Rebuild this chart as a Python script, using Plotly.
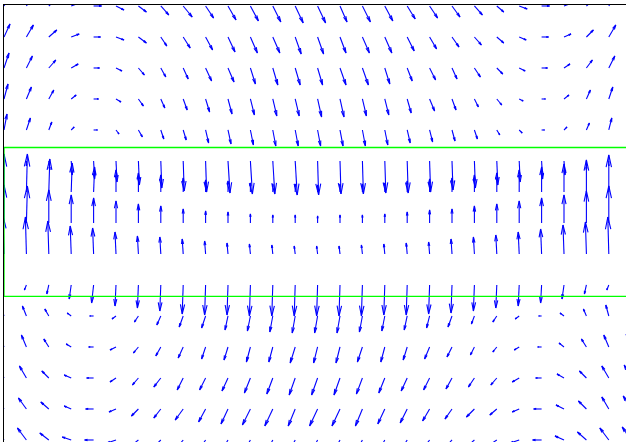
import math
import plotly.graph_objects as go

# ---------------- data ----------------
# grid coordinates (column index along x, row index downward along depth)
x_cols = list(range(29))
y_rows = list(range(15))

# band (green box) limits in row units
band_top = 4.565
band_bottom = 9.365
band_left = 0

# vector components per row (u: rightward, v: upward), arbitrary units
u0 = [7, 8, 8, 8, 8, 8, 8, 8, 9, 8, 8, 8, 8, 8, 8, 7, 8, 8, 8, 8, 8, 8, 7, 8, 8, 8, 8, 8, 7]
v0 = [13, 12, 7, 3, 0, -4, -6, -9, -11, -12, -14, -15, -16, -17, -17, -16, -16, -15, -13, -12, -11, -9, -6, -3, 0, 3, 7, 12, 13]
u1 = [6, 7, 8, 8, 7, 8, 8, 6, 7, 7, 7, 7, 7, 6, 6, 6, 7, 7, 7, 7, 7, 7, 7, 7, 7, 7, 7, 7, 6]
v1 = [13, 12, 7, 3, 0, -3, -6, -9, -11, -13, -15, -16, -16, -17, -17, -16, -16, -16, -14, -12, -10, -8, -6, -3, 0, 3, 7, 12, 13]
u2 = [5, 6, 7, 7, 6, 6, 6, 5, 5, 6, 6, 5, 5, 5, 5, 6, 6, 5, 5, 6, 5, 6, 6, 6, 6, 6, 6, 6, 5]
v2 = [15, 12, 8, 4, 0, -3, -7, -9, -11, -13, -14, -16, -17, -17, -17, -17, -17, -16, -13, -12, -11, -9, -6, -3, 0, 4, 8, 12, 14]
u3 = [4, 5, 5, 5, 5, 5, 5, 4, 4, 4, 4, 4, 4, 4, 4, 4, 4, 4, 4, 5, 4, 4, 5, 4, 4, 5, 4, 4, 4]
v3 = [15, 12, 9, 4, 0, -3, -7, -9, -11, -13, -15, -16, -17, -17, -18, -18, -17, -16, -14, -12, -11, -8, -6, -2, 0, 4, 9, 12, 14]
u4 = [3, 4, 3, 3, 4, 3, 4, 3, 3, 3, 3, 3, 3, 3, 3, 3, 3, 3, 3, 3, 3, 3, 3, 3, 3, 3, 3, 3, 3]
v4 = [16, 12, 8, 3, 0, -4, -7, -9, -10, -13, -14, -15, -16, -16, -16, -16, -16, -15, -13, -12, -11, -9, -5, -3, 0, 3, 7, 12, 14]
u5 = [0, 0, 1, 1, 1, 1, 1, 1, 1, 1, 2, 2, 2, 2, 1, 1, 1, 1, 1, 1, 1, 1, 1, 1, 1, 1, 0, 0, 0]
v5 = [0, -5, -9, -14, -18, -21, -24, -27, -30, -31, -32, -33, -33, -34, -34, -33, -33, -32, -32, -31, -29, -27, -24, -21, -18, -14, -9, -5, 0]
u6 = [0, 1, 1, 1, 1, 0, 0, 0, 0, 0, 0, 0, 0, 0, 0, 0, 0, 0, 0, 0, 0, 0, 0, 0, 0, 0, 0, 0, 0]
v6 = [38, 38, 33, 29, 25, 22, 19, 17, 14, 12, 11, 9, 8, 8, 7, 8, 8, 9, 11, 13, 14, 17, 19, 22, 25, 28, 32, 37, 38]
u7 = [0, 1, 0, 0, 0, 0, 0, 0, 0, 0, 0, 0, 0, 0, 0, 0, 0, 0, 0, 0, 0, 0, 0, 0, 0, 0, 0, 0, 0]
v7 = [38, 37, 33, 28, 25, 22, 19, 17, 14, 12, 11, 9, 8, 8, 7, 8, 8, 9, 11, 13, 14, 17, 19, 22, 25, 28, 32, 37, 38]
u8 = [-1, -1, -1, -1, -1, -1, -1, -1, -1, -1, -1, -1, -1, -1, -1, -1, -1, -1, -1, -1, -1, -1, -1, -1, -1, -1, -1, -1, -1]
v8 = [38, 37, 33, 28, 26, 22, 18, 17, 15, 13, 11, 10, 9, 8, 8, 8, 9, 10, 11, 12, 15, 17, 19, 22, 25, 29, 32, 37, 38]
u9 = [0, -2, -2, -2, -2, -1, -1, -1, -1, -1, -1, -1, -1, -1, -1, -1, -1, -1, -1, -1, -1, -1, -1, -1, -1, -2, -2, -2, 0]
v9 = [0, -5, -9, -14, -18, -21, -23, -26, -29, -30, -30, -31, -31, -31, -31, -31, -31, -30, -30, -29, -28, -26, -23, -21, -18, -14, -9, -5, 0]
u10 = [-4, -4, -4, -4, -4, -4, -4, -4, -4, -4, -3, -3, -3, -3, -3, -3, -3, -3, -3, -3, -4, -3, -4, -4, -3, -4, -3, -3, -4]
v10 = [12, 10, 7, 3, 0, -3, -6, -9, -11, -12, -14, -15, -16, -17, -17, -17, -16, -15, -14, -12, -11, -8, -6, -3, 0, 3, 7, 11, 12]
u11 = [-5, -5, -5, -5, -5, -6, -5, -5, -5, -4, -4, -4, -4, -5, -4, -4, -5, -4, -4, -5, -5, -4, -4, -5, -4, -5, -5, -5, -5]
v11 = [13, 12, 8, 3, 0, -3, -6, -9, -11, -12, -13, -15, -15, -16, -16, -16, -15, -15, -13, -12, -10, -8, -5, -3, 0, 4, 8, 12, 13]
u12 = [-7, -7, -7, -7, -7, -6, -6, -7, -6, -6, -6, -6, -6, -6, -6, -6, -6, -6, -6, -6, -6, -6, -6, -7, -6, -7, -7, -7, -7]
v12 = [13, 12, 7, 3, 0, -4, -7, -9, -12, -12, -13, -15, -16, -17, -17, -17, -16, -15, -13, -12, -11, -9, -7, -4, 0, 4, 7, 12, 13]
u13 = [-8, -8, -8, -7, -8, -7, -7, -7, -8, -7, -7, -8, -8, -7, -8, -8, -7, -7, -7, -7, -7, -8, -7, -7, -8, -8, -8, -7, -8]
v13 = [12, 11, 7, 3, 0, -3, -7, -9, -11, -13, -15, -16, -17, -17, -17, -17, -17, -15, -14, -12, -10, -8, -6, -3, 0, 4, 8, 12, 13]
u14 = [-9, -9, -9, -9, -9, -9, -9, -9, -9, -9, -9, -9, -9, -9, -9, -9, -9, -9, -9, -9, -9, -9, -9, -9, -9, -9, -9, -9, -9]
v14 = [13, 12, 7, 3, 0, -3, -7, -9, -11, -13, -15, -16, -17, -17, -17, -17, -17, -16, -14, -12, -10, -8, -6, -3, 0, 4, 8, 12, 13]

U = [u0, u1, u2, u3, u4, u5, u6, u7, u8, u9, u10, u11, u12, u13, u14]
V = [v0, v1, v2, v3, v4, v5, v6, v7, v8, v9, v10, v11, v12, v13, v14]

# ---------------- layout ----------------
W, H = 626, 442
ML, MR, MT, MB = 4, 0, 5, 0
x_range = [0, 27.768]
y_range = [14.065, -0.032]   # reversed: depth increases downward

plot_w = W - ML - MR
plot_h = H - MT - MB
sx = plot_w / (x_range[1] - x_range[0])   # pixels per x unit
sy = plot_h / (y_range[0] - y_range[1])   # pixels per y unit

# ---------------- arrows (MATLAB-quiver style) ----------------
alpha = 0.33
beta = 0.22
xs, ys = [], []
for r, y0 in enumerate(y_rows):
    for c, x0 in enumerate(x_cols):
        dx = U[r][c]
        dd = -V[r][c]          # downward component (screen)
        L = math.hypot(dx, dd)
        if L < 0.5:
            continue
        tx, ty = x0 + dx / sx, y0 + dd / sy
        xs += [x0, tx, None]
        ys += [y0, ty, None]
        b1x = dx - alpha * (dx + beta * dd)
        b1y = dd - alpha * (dd - beta * dx)
        b2x = dx - alpha * (dx - beta * dd)
        b2y = dd - alpha * (dd + beta * dx)
        xs += [x0 + b1x / sx, tx, x0 + b2x / sx, None]
        ys += [y0 + b1y / sy, ty, y0 + b2y / sy, None]

fig = go.Figure()
fig.add_trace(go.Scatter(x=xs, y=ys, mode="lines",
                         line=dict(color="#0000ff", width=1.1),
                         hoverinfo="skip", showlegend=False))

fig.add_shape(type="rect", xref="x", yref="y",
              x0=band_left, x1=x_cols[-1] + 2, y0=band_top, y1=band_bottom,
              line=dict(color="#00ff00", width=1.3), layer="above")

fig.update_layout(
    width=W, height=H,
    margin=dict(l=ML, r=MR, t=MT, b=MB, pad=0),
    paper_bgcolor="white", plot_bgcolor="white",
    showlegend=False,
    hovermode=False,
    xaxis=dict(range=x_range, side="top", showline=True, linecolor="black",
               linewidth=1, showgrid=False, zeroline=False,
               showticklabels=False, ticks=""),
    yaxis=dict(range=y_range, side="left", showline=True, linecolor="black",
               linewidth=1, showgrid=False, zeroline=False,
               showticklabels=False, ticks=""),
)

fig.write_html("out.html",
               config={"displayModeBar": False, "staticPlot": True},
               post_script="document.body.style.margin='0';"
                           "document.body.style.overflow='hidden';")
